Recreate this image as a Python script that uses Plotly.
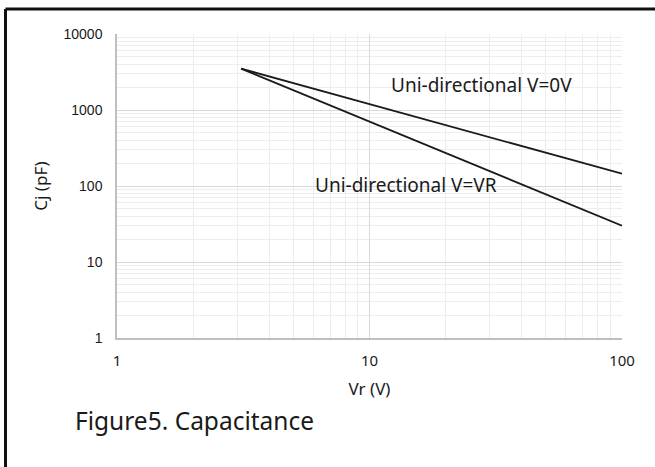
import plotly.graph_objects as go

# Data
vr = [3.1, 100]
cj_0v = [3500, 145]
cj_vr = [3500, 30]

x_tickvals = [1, 10, 100]
x_ticktext = ["1", "10", "100"]
y_tickvals = [1, 10, 100, 1000, 10000]
y_ticktext = ["1", "10", "100", "1000", "10000"]

W, H = 655, 467
L, R, T, B = 117, 33, 34, 129
pw, ph = W - L - R, H - T - B

def px(x):
    return (x - L) / pw

def py(y):
    return (H - B - y) / ph

fig = go.Figure()
fig.add_trace(go.Scatter(x=vr, y=cj_0v, mode="lines", line=dict(color="#1a1a1a", width=1.8),
                         showlegend=False, hoverinfo="skip"))
fig.add_trace(go.Scatter(x=vr, y=cj_vr, mode="lines", line=dict(color="#1a1a1a", width=1.8),
                         showlegend=False, hoverinfo="skip"))

grid_major = "#d9d9d9"
grid_minor = "#ededed"
txt = "#1a1a1a"

fig.update_xaxes(type="log", range=[0, 2], tickmode="array", tickvals=x_tickvals, ticktext=x_ticktext,
                 showgrid=True, gridcolor=grid_major, gridwidth=1,
                 minor=dict(dtick="D1", showgrid=True, gridcolor=grid_minor, ticks=""),
                 showline=True, linecolor="#bfbfbf", linewidth=1.5, zeroline=False,
                 ticks="", ticklabelstandoff=8,
                 tickfont=dict(family="Noto Sans", size=15, color=txt),
                 title=dict(text="Vr (V)", font=dict(family="Noto Sans", size=17, color=txt), standoff=14))
fig.update_yaxes(type="log", range=[0, 4], tickmode="array", tickvals=y_tickvals, ticktext=y_ticktext,
                 showgrid=True, gridcolor=grid_major, gridwidth=1,
                 minor=dict(dtick="D1", showgrid=True, gridcolor=grid_minor, ticks=""),
                 showline=True, linecolor="#bfbfbf", linewidth=1.5, zeroline=False,
                 ticks="", ticklabelstandoff=10,
                 tickfont=dict(family="Liberation Sans", size=14, color=txt),
                 title=dict(text="Cj (pF)", font=dict(family="Noto Sans", size=17, color=txt), standoff=12))

annotations = [
    dict(text="Uni-directional V=0V", x=px(481), y=py(85), xref="paper", yref="paper",
         showarrow=False, font=dict(family="Noto Sans", size=19, color=txt), xanchor="center", yanchor="middle"),
    dict(text="Uni-directional V=VR", x=px(405.5), y=py(185), xref="paper", yref="paper",
         showarrow=False, font=dict(family="Noto Sans", size=19, color=txt), xanchor="center", yanchor="middle"),
    dict(text="Figure5. Capacitance", x=px(73), y=py(420), xref="paper", yref="paper",
         showarrow=False, font=dict(family="Noto Sans", size=24.5, color=txt), xanchor="left", yanchor="middle"),
]

shapes = [
    dict(type="line", xref="paper", yref="paper", x0=px(5.5), x1=px(700), y0=py(9), y1=py(9),
         line=dict(color="#111111", width=3)),
    dict(type="line", xref="paper", yref="paper", x0=px(5.5), x1=px(5.5), y0=py(9), y1=py(520),
         line=dict(color="#111111", width=3)),
]

fig.update_layout(width=W, height=H, margin=dict(l=L, r=R, t=T, b=B),
                  paper_bgcolor="white", plot_bgcolor="white",
                  annotations=annotations, shapes=shapes, showlegend=False)

fig.write_html("out.html", config={"displayModeBar": False},
               post_script="document.body.style.margin='0';document.body.style.overflow='hidden';")
